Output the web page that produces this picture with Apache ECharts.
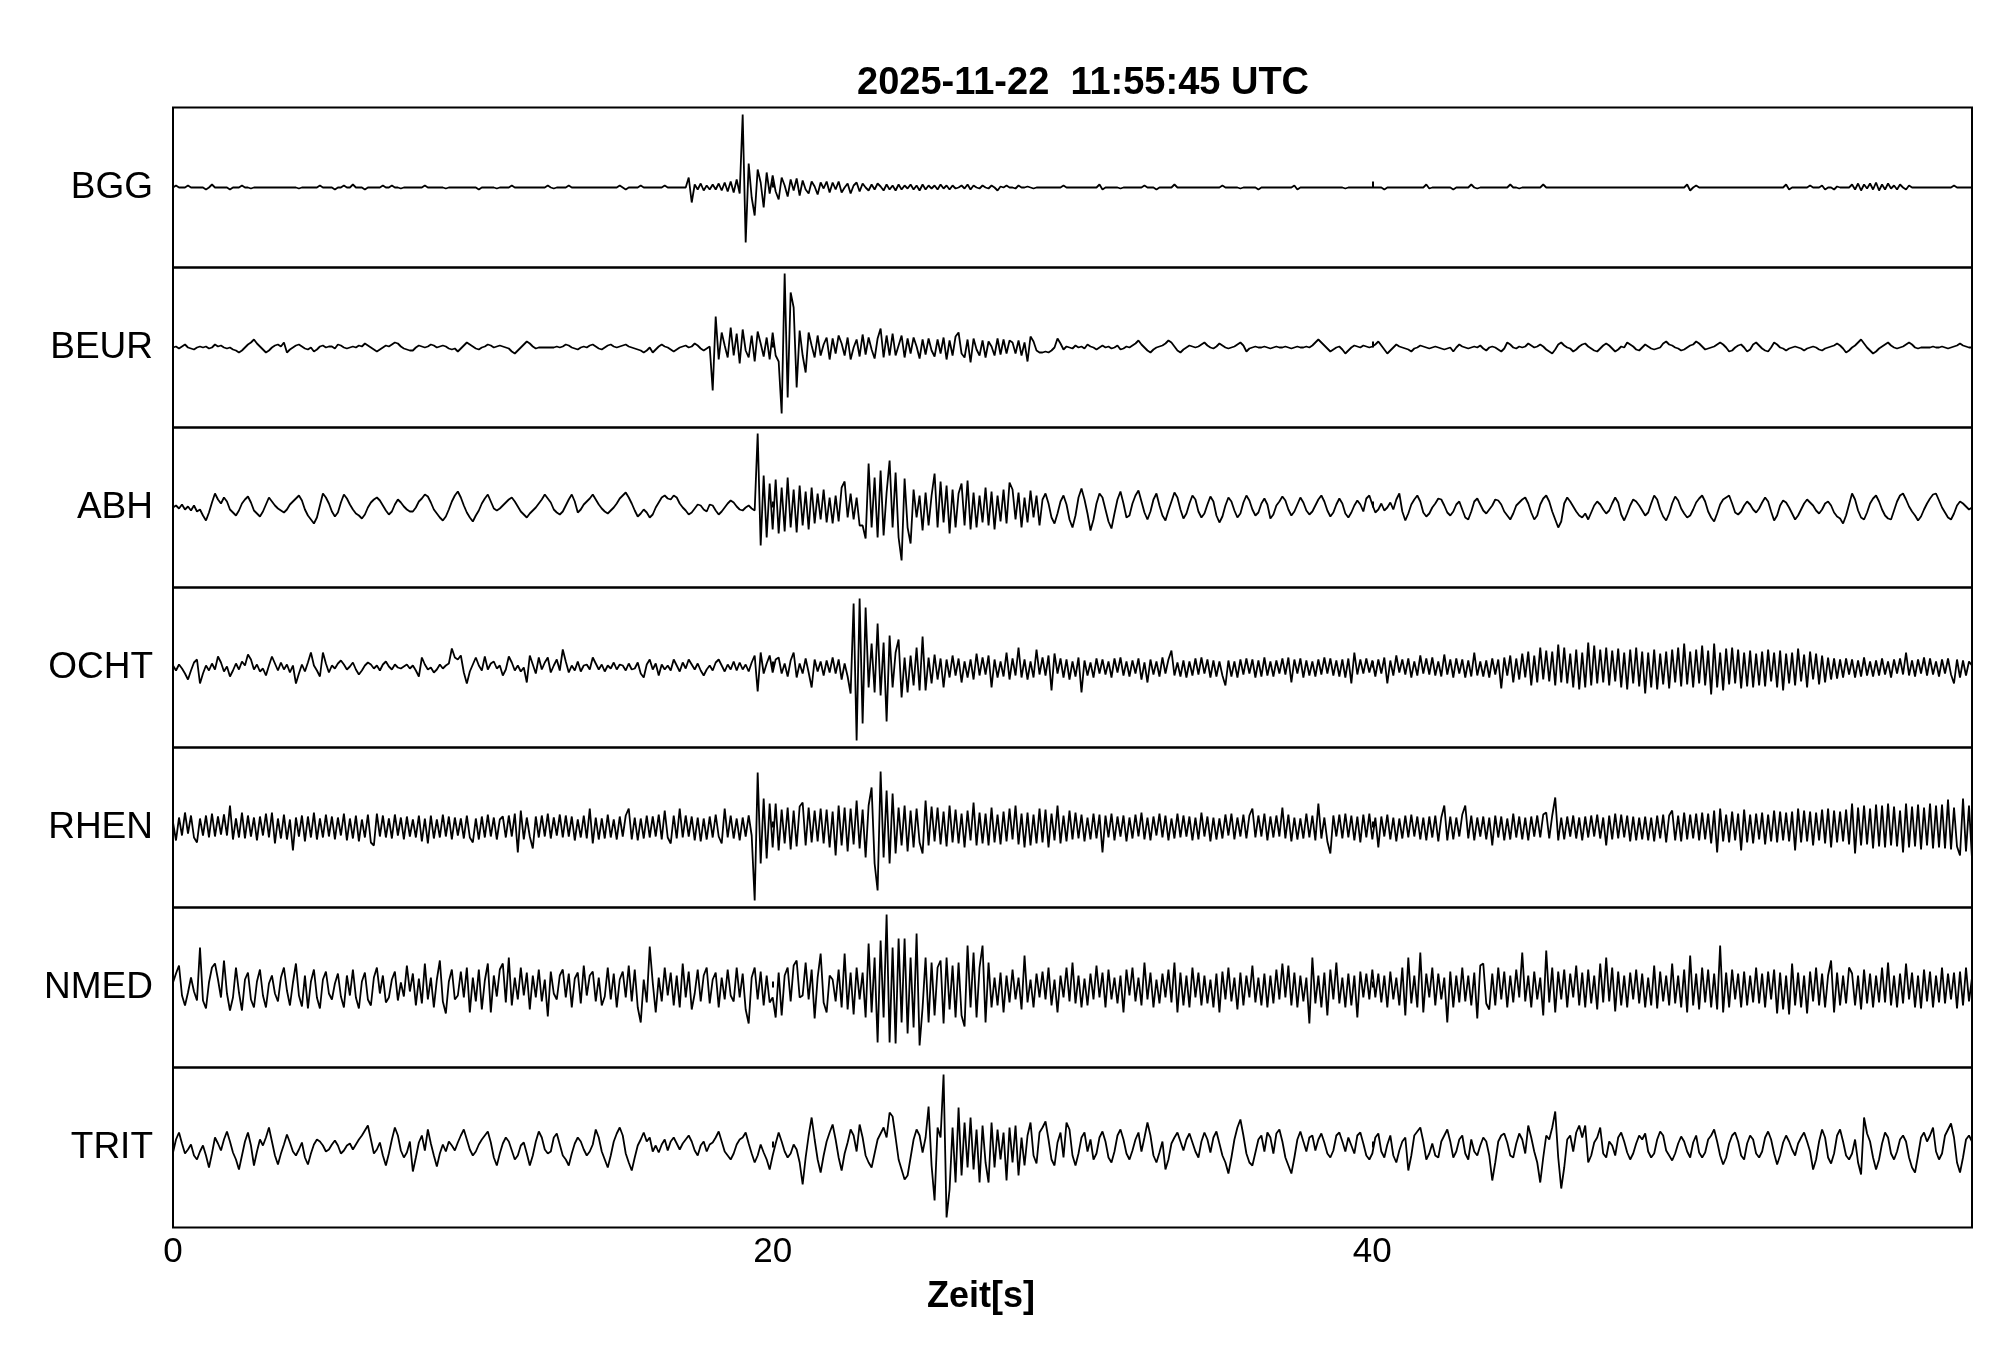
<!DOCTYPE html>
<html>
<head>
<meta charset="utf-8">
<script src="https://cdn.jsdelivr.net/npm/echarts@6/dist/echarts.min.js"></script>
<style>
html,body{margin:0;padding:0;background:#fff;}
#chart{width:2005px;height:1361px;}
</style>
</head>
<body>
<div id="chart"></div>
<script>
const titleText = '2025-11-22  11:55:45 UTC';
const xName = 'Zeit[s]';
const stations = ['BGG','BEUR','ABH','OCHT','RHEN','NMED','TRIT'];
const xTickLabels = [0, 20, 40];
const dt = 0.1; // seconds between samples

const bgg = [
0,2,0,0,0,2,0,0,0,0,
0,-2,0,3,0,0,0,0,0,-2,
0,0,0,2,0,0,-1,0,0,0,
0,0,0,0,0,0,0,0,0,0,
0,0,-1,0,0,0,0,0,0,2,
0,0,0,0,-2,0,0,2,0,0,
3,0,0,0,-2,0,0,0,0,0,
2,0,0,2,0,0,-1,0,0,0,
0,0,0,0,2,0,0,0,0,0,
0,-1,0,0,0,0,0,0,0,0,
0,0,-2,0,0,0,0,0,-1,0,
0,0,0,2,0,0,0,0,0,0,
0,0,0,0,0,2,0,-1,0,0,
0,0,2,0,0,0,0,0,0,0,
0,0,0,0,0,0,0,0,0,2,
0,-2,0,0,0,0,2,0,0,0,
0,0,0,0,2,0,0,0,0,0,
0,0,10,-15,3,-2,4,-3,2,-2,
3,-2,4,-3,5,-4,6,-5,8,-6,
73,-55,24,-10,-28,18,5,-20,15,-6,
12,-4,-12,10,2,-9,8,-3,9,-8,
7,-2,-6,6,1,-7,5,-1,6,-5,
5,-2,6,-5,0,4,-6,2,5,-4,
4,0,-3,3,-2,4,1,-3,3,-2,
2,-3,3,-2,2,-1,3,-2,2,-3,
3,-2,2,-1,2,-2,3,-1,2,-2,
2,-1,0,2,-1,3,-2,2,0,-1,
2,0,-1,2,0,-3,1,0,2,0,
0,-1,2,0,0,1,0,-1,0,0,
0,0,0,0,0,0,0,2,0,0,
0,0,0,0,0,0,0,0,0,3,
-2,0,0,0,0,0,-1,0,0,0,
0,0,0,0,2,0,0,0,-2,0,
0,0,0,0,3,0,0,0,0,0,
0,0,0,0,0,0,0,0,0,0,
2,0,0,0,0,0,-1,0,0,0,
0,0,-2,0,0,0,0,0,0,0,
0,0,0,0,2,-2,0,0,0,0,
0,0,0,0,0,0,0,0,0,0,
0,-1,0,0,0,0,0,0,0,0,
0,0,0,0,-2,0,0,0,0,0,
0,0,0,0,0,0,0,0,3,-1,
0,0,0,0,0,0,0,-2,0,0,
0,0,0,3,0,-1,0,0,0,0,
0,0,0,0,0,0,3,0,0,-1,
0,0,0,0,0,0,0,3,0,0,
0,0,0,0,0,0,0,0,0,0,
0,0,0,0,0,0,0,0,0,0,
0,0,0,0,0,0,0,0,0,0,
0,0,0,0,0,0,0,0,0,0,
0,0,0,0,0,3,-3,0,2,0,
0,0,0,0,0,0,0,0,0,0,
0,0,0,0,0,0,0,0,0,0,
0,0,0,0,0,0,0,0,3,-2,
0,0,0,0,0,0,2,0,0,0,
2,-2,0,0,-2,1,0,0,0,0,
3,-2,4,-3,3,-1,4,-2,5,-3,
3,-2,4,-1,2,-2,3,0,-2,2,
0,0,0,0,0,0,0,0,0,0,
0,0,0,0,2,0,0,0,0,0,
0];

const beur = [
0,1,-1,1,3,0,-1,-2,0,1,
0,1,-1,0,3,1,2,0,-1,0,
-2,-3,-5,-3,0,3,5,8,4,1,
-2,-5,-3,0,2,3,1,5,-5,-2,
0,2,3,1,-1,-2,0,-4,-2,1,
2,0,1,1,-1,3,2,0,-1,0,
1,0,2,1,4,2,0,-2,-4,-2,
0,2,1,3,5,4,1,-1,-2,-3,
-3,0,2,1,0,1,3,2,0,1,
2,1,-1,-2,-1,-4,-1,2,5,3,
1,-1,-2,0,1,3,2,0,1,2,
1,0,-1,-4,-6,-3,0,3,6,4,
1,-1,0,0,0,0,0,0,1,0,
1,3,2,0,-1,-2,0,1,0,2,
3,1,-1,-2,0,2,3,1,0,1,
2,3,1,0,-1,-2,-3,-5,-3,0,
-5,-2,1,3,1,0,-2,-4,-2,0,
1,2,0,1,4,2,-1,-3,-1,1,
-43,31,-12,15,2,-10,20,-8,14,-16,
18,-3,-10,12,-14,16,4,-9,10,-12,
15,-8,-14,-66,74,-50,55,40,-40,17,
-8,-25,15,2,-10,12,-8,3,10,-12,
9,-6,12,4,-8,10,-12,0,8,-9,
13,-7,10,-2,-11,9,19,-10,12,-8,
14,-8,2,12,-10,9,-6,10,1,-11,
8,-7,9,-3,-9,8,-6,10,-12,7,
-8,11,15,-6,-10,8,-15,9,-2,-8,
7,-10,6,1,-8,9,-7,8,-6,7,
5,-6,7,-8,5,-14,11,6,-3,-5,
-5,-4,-5,-3,0,9,4,-2,1,0,
-1,2,0,1,-1,3,1,0,-2,0,
2,0,1,-1,0,2,-2,-1,1,0,
2,4,7,3,0,-3,-5,-2,0,1,
2,4,7,5,1,-3,-5,-2,0,2,
1,0,1,3,5,2,0,-1,1,4,
2,0,-1,0,1,3,5,2,-4,-1,
0,1,0,0,1,0,-1,0,1,0,
0,1,0,-1,0,1,0,0,1,0,
2,5,8,5,2,-1,-4,-2,0,1,
-2,-6,-3,0,2,1,0,2,1,0,
1,3,6,2,-2,-6,-3,0,3,1,
0,-1,-2,-4,-1,0,2,1,0,-1,
0,1,0,-1,-2,-1,0,-4,0,3,
1,0,-1,0,1,0,2,-1,-3,0,
1,0,-2,-4,-1,5,3,0,-1,1,
0,1,4,2,0,1,3,1,-2,-4,
-6,-2,3,5,2,0,-1,-4,-2,1,
3,4,1,-1,-3,-4,-1,2,4,2,
-1,-4,-2,1,0,5,3,1,-2,-3,
0,3,1,-1,-2,-1,0,4,6,3,
2,0,-1,-3,-2,0,2,3,6,4,
1,-2,-1,0,1,3,5,3,0,-4,
-3,0,2,3,0,-4,-2,3,5,2,
-1,-3,-4,0,5,3,0,-1,-3,-1,
0,1,0,-1,-3,-1,0,1,0,-2,
-3,-1,0,1,2,4,2,-1,-5,-3,
0,2,5,8,4,0,-3,-6,-4,-1,
1,3,5,2,0,-1,0,1,3,5,
3,0,-1,0,0,0,0,1,0,0,
1,0,-1,0,1,2,4,2,1,0,
0];

const abh = [
0,2,-1,3,-2,1,-3,2,-4,-2,
-8,-13,-5,5,14,8,4,10,6,-2,
-5,-8,-3,4,8,11,5,-3,-6,-9,
-4,3,10,6,2,-1,-3,-5,-2,3,
6,9,12,7,-2,-8,-12,-16,-10,2,
14,10,4,-4,-9,-5,5,13,9,3,
-2,-6,-8,-11,-7,0,5,8,10,7,
2,-3,-7,-4,3,8,5,1,-2,-4,
-4,0,6,9,13,11,5,-2,-6,-10,
-13,-9,-2,6,12,16,10,2,-5,-10,
-14,-8,-3,4,9,13,6,-1,-3,-1,
2,5,8,10,6,1,-4,-7,-10,-6,
-3,0,4,8,13,9,5,-2,-5,-7,
-4,2,8,13,6,-5,-2,3,6,9,
13,8,3,-1,-4,-6,-3,0,4,9,
12,15,10,4,-3,-9,-6,-2,-5,-10,
-7,0,5,10,12,9,8,12,10,4,
0,-3,-7,-5,-1,3,2,-2,-4,3,
2,-3,-7,-4,0,4,7,5,1,-2,
-3,0,2,-1,-3,74,-38,32,-30,24,
-22,28,-26,20,-24,30,-20,18,-25,22,
-18,16,-22,20,-16,14,-12,18,-15,10,
-16,12,-14,20,26,-10,14,-12,10,-18,
-18,-31,44,-20,30,-30,37,-28,15,47,
-20,35,-30,-53,29,-20,-36,18,-10,12,
-23,15,-18,12,34,-20,26,-15,22,-26,
18,-20,14,24,-18,27,-22,15,-20,12,
-15,20,-18,16,-22,12,-14,18,-16,25,
18,-12,15,-20,10,-15,17,-10,12,-18,
8,14,4,-10,-16,-6,6,12,3,-12,
-20,-8,10,19,8,-6,-23,-12,4,14,
10,-2,-14,-21,-6,8,16,4,-10,-8,
4,12,17,6,-5,-12,-4,8,14,2,
-8,-13,-3,6,15,10,-2,-11,-6,4,
12,8,-4,-10,-6,3,11,6,-8,-15,
-9,2,10,6,-3,-10,-6,5,12,7,
-2,-8,-5,4,9,3,-11,-7,2,6,
11,7,-2,-8,-4,3,10,5,-3,-7,
-4,2,8,12,6,-3,-9,-5,3,9,
4,-6,-10,-5,2,7,3,-4,9,12,
3,-5,-2,4,-3,0,5,-2,8,14,
-4,-13,-6,3,8,12,6,-5,-9,-6,
0,4,9,8,2,-5,-8,-4,3,6,
-2,-10,-12,-4,6,9,3,-3,-6,-2,
2,8,7,3,-4,-8,-12,-6,2,5,
8,10,4,-5,-12,-8,3,9,12,6,
-4,-12,-20,-14,4,10,6,1,-4,-8,
-10,-6,-12,-5,2,6,3,-2,-6,-3,
4,10,5,-7,-13,-6,2,8,6,2,
-3,-8,-5,4,12,8,-2,-9,-13,-6,
4,11,7,-1,-6,-10,-8,-2,5,9,
12,6,-4,-10,-14,-6,3,8,10,12,
4,-5,-7,-4,2,6,3,-2,-5,-1,
5,10,6,-4,-13,-8,2,7,5,0,
-6,-12,-8,-2,4,8,5,2,-3,-6,
-2,4,6,2,-5,-9,-11,-16,-8,3,
14,8,-3,-10,-12,-5,4,9,12,6,
-2,-8,-11,-12,-3,6,12,14,8,1,
-4,-8,-13,-9,-2,4,9,13,14,7,
0,-5,-10,-12,-6,2,6,4,1,-2,
0];

const ocht = [
2,-3,3,-1,-6,-12,-3,5,8,-16,
-6,2,-3,4,-2,11,5,-4,1,-9,
-3,4,-2,6,2,13,8,-2,3,-4,
-1,-8,2,11,4,-3,5,-2,3,-5,
2,-16,-6,3,-4,5,15,2,-3,-9,
15,4,-5,2,-1,4,7,3,-2,1,
5,-2,-7,-3,2,5,3,-1,2,-3,
3,6,1,-2,3,0,-1,1,3,-1,
2,-3,-9,10,3,-2,0,-5,-2,3,
-1,2,4,19,10,8,12,-5,-16,-4,
3,10,2,-3,11,-2,4,6,-1,2,
-8,-2,11,5,-3,2,-4,0,-15,12,
3,-6,10,-2,5,10,-5,2,8,-3,
18,6,-5,2,-3,6,-4,2,3,-2,
10,4,-2,3,-4,2,-1,5,-2,3,
2,-3,4,-2,-1,5,-6,-10,3,8,
-2,4,-8,3,-2,2,-3,8,2,-4,
5,-1,8,3,-2,4,-3,-8,-2,2,
-3,5,8,2,-4,3,-2,6,-3,5,
-2,3,-4,5,12,-24,15,-6,4,12,
-5,8,10,-6,4,-9,7,15,-10,4,
-6,9,-5,-20,8,-4,6,-8,7,-5,
10,-6,8,-12,4,-9,-26,64,-73,69,
-56,60,-20,24,-25,44,-28,25,-54,32,
-20,15,28,-30,10,-25,12,-18,20,-23,
31,-23,10,-16,13,-12,9,-20,8,-10,
12,-8,9,-15,6,-10,8,-12,14,-8,
10,-7,12,-20,8,-10,6,-9,15,-12,
9,-8,20,-10,8,-12,6,-10,18,-7,
10,-8,12,-23,14,-6,9,-10,8,-12,
6,-9,10,-25,7,-8,5,-10,9,-6,
8,-7,6,-10,9,-5,10,-8,6,-9,
7,-6,9,-12,5,-15,8,-7,6,-9,
10,-6,8,17,-8,5,-9,7,-10,6,
-8,9,-7,10,-6,8,-10,7,-9,6,
-8,-18,7,-9,6,-10,8,-7,9,-6,
8,-10,7,-9,10,-8,6,-9,7,-6,
9,-7,10,-15,8,-6,9,-10,7,-8,
6,-9,8,-7,10,-6,9,-8,7,-9,
8,-10,9,-16,15,-7,8,-6,9,-5,
7,-9,8,-6,10,-16,7,-8,12,-5,
8,-7,9,-10,6,-8,12,-6,9,-7,
10,-8,6,-9,13,-7,8,-10,9,-6,
8,-10,7,-9,15,-8,6,-9,7,-10,
9,-7,8,-21,10,-8,12,-15,9,-12,
14,-10,16,-18,12,-15,20,-12,17,-14,
16,-18,23,-15,20,-16,14,-20,18,-22,
15,-20,25,-18,22,-16,18,-15,20,-18,
17,-14,19,-20,15,-22,18,-16,20,-19,
16,-26,15,-20,18,-22,14,-17,16,-21,
18,-15,20,-19,24,-17,16,-20,18,-16,
22,-18,17,-27,24,-20,15,-23,19,-17,
20,-16,18,-21,15,-19,17,-20,14,-18,
16,-19,18,-14,15,-20,17,-23,14,-16,
15,-18,19,-14,13,-20,16,-12,14,-17,
12,-15,10,-12,9,-11,8,-10,9,-7,
8,-10,7,-9,10,-8,6,-9,7,-8,
9,-7,6,-10,8,-6,9,-7,15,-8,
7,-9,8,-6,10,-8,9,-7,6,-9,
8,-6,9,-7,-16,8,-10,7,-8,6,
2];

const rhen = [
5,-13,10,-8,15,-6,12,-10,-15,9,
-8,12,-10,14,-9,11,-7,13,-8,22,
-12,9,-10,15,-11,12,-9,10,-13,11,
-8,14,-10,15,-16,9,-11,13,-12,8,
-23,10,-9,12,-14,11,-10,15,-12,9,
-10,13,-9,11,-12,10,-8,14,-13,9,
-11,12,-14,8,-10,13,-15,-18,14,-9,
12,-10,9,-11,13,-8,10,-12,11,-9,
8,-10,12,-14,9,-16,12,-11,8,-10,
13,-9,11,-12,10,-8,9,-11,12,-10,
-15,9,-12,11,-10,13,-9,10,-12,8,
11,-10,12,-9,14,-25,17,-12,10,-9,
-21,11,-10,12,-9,14,-11,10,-8,13,
-10,12,-9,11,-13,8,-10,12,-11,19,
-16,10,-12,9,-11,13,-10,8,-12,11,
-9,12,19,-12,10,-13,9,-11,12,-10,
11,-9,13,-12,17,-10,-16,12,-11,19,
-10,12,-9,11,-13,10,-14,9,-12,11,
-10,13,-9,-16,19,-10,12,-11,9,-13,
10,-9,12,-8,-73,55,-36,29,-31,24,
-20,24,-23,18,-16,20,-22,17,-19,21,
25,-18,20,-15,17,-14,19,-16,18,-20,
16,-28,22,-18,20,-24,19,-17,27,-21,
18,-30,22,40,-36,-63,56,-30,37,-36,
34,-26,20,-18,22,-24,17,-20,19,-15,
-26,27,-18,21,-14,20,-17,16,-19,22,
-15,18,-16,14,-20,17,-13,25,-18,15,
-16,14,-18,20,-15,13,-17,16,-14,19,
-12,22,-17,14,-20,15,-18,13,-16,19,
-15,18,-20,14,-13,22,-16,12,-14,17,
-12,15,-11,13,-14,10,-12,14,-11,13,
-25,12,-10,14,-13,11,-9,12,-14,10,
-11,13,-9,15,-12,10,-13,11,-8,14,
-10,12,-13,9,-11,14,-10,12,-9,11,
-13,10,-12,15,-9,11,-14,10,-12,9,
-11,13,-8,14,-12,10,-9,13,-11,12,
19,-10,12,-9,14,-13,11,-10,12,-9,
20,-11,13,-14,10,-12,9,-11,14,-10,
12,-13,24,-11,10,-14,-26,12,-9,13,
-11,14,-10,12,-13,11,-15,13,-10,14,
-12,10,-20,11,-9,13,-12,10,-14,9,
-11,12,-10,13,-9,11,-12,10,-13,11,
-10,12,-14,10,22,-13,11,-12,10,-9,
13,22,-11,12,-13,10,-9,11,-12,10,
-18,12,-10,11,-13,9,-12,14,-10,11,
-12,10,-13,11,-9,12,-10,13,15,-11,
12,30,-13,10,-12,11,-9,12,-11,10,
-13,11,-10,12,-9,13,-11,10,-18,12,
-12,14,-11,13,-10,12,-14,11,-13,10,
-12,11,-13,10,-14,12,-11,13,-15,12,
17,-13,12,-14,15,-12,13,-11,14,-13,
15,-12,14,-16,17,-25,19,-14,13,-15,
16,-13,14,-23,18,-15,13,-16,14,-12,
15,-17,13,-14,17,-15,16,-13,15,-14,
16,-23,19,-15,17,-14,16,-18,15,-13,
18,-16,19,-20,17,-15,16,-14,18,-17,
24,-26,20,-18,22,-17,19,-21,23,-19,
22,-20,24,-18,21,-19,17,-25,24,-20,
21,-19,23,-22,20,-18,24,-21,22,-20,
23,-21,28,-22,20,-19,-28,29,-24,22,
-31];

const nmed = [
5,14,22,-8,-18,-5,10,-4,-13,40,
-13,-21,5,20,24,8,-10,27,-6,-23,
-10,20,-5,-23,8,15,-12,-20,6,18,
-8,-20,4,12,-6,-14,10,20,-3,-18,
5,24,-8,-19,12,-21,6,18,-10,-21,
8,16,-6,-12,4,14,-9,-20,12,-8,
18,-10,-21,6,15,-12,-18,10,20,-6,
12,-15,-10,8,16,-13,5,-9,22,-4,
14,-18,9,-16,24,-12,10,-20,8,27,
-14,-26,6,18,-12,-8,16,-10,20,-25,
10,-14,18,-22,7,24,-25,12,-9,18,
24,-15,30,-18,10,-12,20,-8,15,-22,
12,-10,18,-14,8,-29,16,-6,-12,12,
18,-10,14,-20,9,15,-16,22,-8,12,
16,-14,10,-18,-9,20,-12,14,-20,8,
16,-10,22,-14,18,-20,-35,8,-15,41,
5,-25,10,-14,20,-8,15,-18,12,-20,
24,-10,16,-22,-6,18,-14,12,20,-16,
8,15,-20,10,-12,18,-8,-14,20,-10,
14,-22,-36,10,20,-12,16,-18,12,-15,
-10,-30,15,-28,12,20,-14,22,27,-10,
-8,25,-12,18,-31,10,34,-15,-25,12,
8,-14,18,-20,34,-22,15,-27,20,-12,
15,-30,44,-25,30,-55,47,-30,73,-55,
40,-56,49,-35,49,-46,30,-40,54,-58,
-20,30,-35,25,-28,20,27,-36,30,-22,
22,-30,25,-28,-39,42,-20,35,-30,20,
42,-35,25,-20,10,-18,15,-25,12,-15,
18,-12,10,-22,32,-15,8,-20,14,-10,
16,-12,20,-18,8,-25,12,-10,20,-14,
25,-16,12,-20,9,-18,14,-12,22,-10,
15,-20,18,-12,10,-16,12,-25,18,-8,
20,-14,10,-18,25,-12,15,-20,8,-16,
14,-10,18,-15,25,-25,15,-18,12,-20,
20,-10,15,-18,12,-16,8,-20,14,-25,
16,-12,20,-14,10,-22,15,-18,12,-10,
22,-15,10,-18,14,-20,12,-16,18,-12,
24,-10,22,-18,15,-20,12,-14,10,-36,
30,-16,12,-20,15,-28,18,-12,25,-16,
10,-20,14,-18,12,-30,16,-10,14,-12,
18,-10,14,-15,12,-20,16,-12,10,-18,
20,-28,30,-16,12,-20,35,-25,14,-10,
20,-18,14,-12,10,-35,16,-20,12,-15,
20,-14,12,-18,15,-31,22,24,-16,-22,
14,-18,20,-12,16,-20,12,-15,18,-10,
35,-14,12,-20,16,-12,10,-28,37,-15,
20,-25,16,-12,18,-20,14,-10,22,-18,
15,-20,18,-16,12,-22,24,-15,30,-14,
20,-24,16,-18,12,-20,15,-12,18,-16,
14,-20,10,-18,22,-21,16,-14,12,-18,
24,-16,12,-20,18,-25,32,-18,14,-22,
20,-15,18,-20,14,-22,42,-25,15,-20,
18,-12,14,-20,16,-18,12,-15,20,-16,
14,-20,16,-12,18,-26,15,-22,12,-27,
24,-18,15,-20,12,-26,16,-14,20,-18,
14,-20,12,27,-25,15,-18,12,-16,20,
14,-18,12,-22,18,-16,14,-20,12,-15,
20,-15,25,-18,12,-20,14,-16,24,-12,
15,-20,12,-21,18,-14,16,-20,12,-15,
20,-16,14,-12,15,-21,16,-18,20,-14,
10];

const trit = [
-5,8,15,4,-6,-2,3,-8,-12,-4,
2,-8,-20,-6,10,4,-3,8,16,6,
-5,-12,-22,-8,6,15,2,-18,-4,8,
2,10,20,6,-8,-17,-6,3,13,5,
-4,-8,-2,5,-10,-17,-6,3,8,6,
2,-4,-2,3,7,2,-6,-3,2,4,
-2,3,8,12,17,22,8,-6,-2,5,
-8,-18,-6,8,20,12,-3,-10,-5,6,
-24,-10,5,12,-3,18,4,-8,-19,-6,
3,-4,6,2,-3,5,12,18,8,-2,
-8,-4,3,8,12,16,5,-10,-18,-6,
4,10,6,-3,-12,-8,2,5,-6,-18,
-8,6,16,10,-2,-6,-4,10,14,3,
-8,-12,-18,-6,4,10,6,-2,-8,-4,
3,18,10,-4,-12,-20,-8,6,14,20,
12,-6,-15,-23,-10,2,8,15,6,10,
-4,2,-5,3,8,-3,6,10,4,-2,
4,8,12,6,-3,-8,2,6,-4,3,
5,10,16,6,-4,-8,-12,-6,3,8,
10,15,4,-6,-15,-8,3,-5,-12,-22,
-8,4,15,6,-4,-10,-6,3,-2,-15,
-37,-10,12,30,8,-12,-25,-8,6,15,
23,8,-10,-23,-6,5,18,12,-4,23,
10,-8,-15,-20,-6,8,14,20,10,35,
31,10,-12,-22,-32,-28,-10,8,18,12,
-5,10,41,-18,-53,20,10,73,-70,-42,
20,-35,40,-28,25,-20,30,-22,18,-35,
22,-15,-35,25,-20,18,-12,15,-33,20,
-15,22,-28,10,-18,12,25,-8,-16,15,
20,26,8,-12,-18,5,15,-10,25,18,
-8,-18,-6,10,15,-4,8,-12,-6,10,
16,6,-10,-15,-4,12,18,8,-6,-12,
-3,8,15,-4,10,25,12,-8,-15,-5,
6,-22,-12,4,10,15,6,-3,8,14,
5,-4,-10,6,15,8,-5,10,16,4,
-8,-15,-26,-10,8,20,28,12,-6,-15,
-18,-5,8,12,-4,15,10,-6,14,18,
6,-10,-18,-26,-10,8,16,6,-4,10,
12,-3,8,14,5,-6,-10,-3,12,15,
6,-4,10,2,-6,12,15,4,-8,-12,
-6,10,14,-4,-10,3,12,-8,-15,-3,
6,10,-23,-8,12,16,20,6,-12,-6,
4,-8,-10,6,12,18,6,-10,-4,8,
12,-6,-12,8,-4,-8,2,10,6,-8,
-33,-15,6,12,14,5,-8,-10,4,14,
8,-6,22,10,-4,-15,-35,-10,12,8,
20,36,-10,-41,-20,8,12,-4,15,22,
10,22,-15,-8,5,10,20,-6,-10,6,
2,-8,10,15,6,-5,-12,-6,4,12,
8,14,-4,-10,-6,8,16,12,-3,-8,
-13,-6,4,11,6,-4,-10,5,12,-5,
-10,-5,8,12,18,6,-8,-17,-10,4,
12,15,6,-8,-12,4,12,8,-6,-10,
-4,10,16,8,-6,-17,-8,5,12,6,
-2,-8,4,10,15,6,-4,-22,-12,6,
18,10,-10,-16,-6,12,18,6,-8,-12,
-6,8,-15,-27,30,14,6,-10,-22,-12,
4,15,10,-6,-12,-4,8,12,6,-10,
-20,-25,-8,10,15,6,12,20,-4,-12,
-6,12,18,24,10,-15,-25,-10,8,12,
6];

const traces = [bgg, beur, abh, ocht, rhen, nmed, trit];

const FONT = "'Liberation Sans', Arial, Helvetica, sans-serif";
const chart = echarts.init(document.getElementById('chart'), null, {renderer: 'canvas'});

const plotLeft = 173, plotRight = 33, panelTop = 107.5, panelH = 160;
const grids = [], xAxes = [], yAxes = [], series = [];
stations.forEach((name, i) => {
  grids.push({
    left: plotLeft, right: plotRight, top: panelTop + i * panelH, height: panelH,
    show: true, borderColor: '#000', borderWidth: 2, backgroundColor: 'transparent'
  });
  const last = i === stations.length - 1;
  xAxes.push({
    type: 'value', gridIndex: i, min: 0, max: 60, interval: 20,
    axisLine: {show: false},
    axisTick: {show: true, inside: true, length: 6, lineStyle: {color: '#000', width: 2}},
    axisLabel: {
      show: last, color: '#000', fontSize: 35, fontFamily: FONT, margin: 7,
      showMaxLabel: false,
      formatter: v => (xTickLabels.indexOf(v) >= 0 ? String(v) : '')
    },
    splitLine: {show: false}
  });
  yAxes.push({
    type: 'value', gridIndex: i, min: -80, max: 80,
    name: name, nameLocation: 'middle', nameRotate: 0, nameGap: 20,
    nameTextStyle: {color: '#000', fontSize: 37, fontFamily: FONT, align: 'right',
                    verticalAlign: 'middle', padding: [3, 0, 0, 0]},
    axisLine: {show: false}, axisTick: {show: false}, axisLabel: {show: false}, splitLine: {show: false}
  });
  series.push({
    type: 'line', xAxisIndex: i, yAxisIndex: i, name: name,
    data: traces[i].map((v, k) => [k * dt, v]),
    showSymbol: false, symbol: 'none', smooth: false,
    lineStyle: {color: '#000', width: 1.8}, silent: true
  });
});

chart.setOption({
  animation: false,
  backgroundColor: '#fff',
  title: [
    {text: titleText, left: 852, top: 60,
     textStyle: {color: '#000', fontSize: 38, fontWeight: 'bold', fontFamily: FONT}},
    {text: xName, left: 922, top: 1274,
     textStyle: {color: '#000', fontSize: 36, fontWeight: 'bold', fontFamily: FONT}}
  ],
  grid: grids,
  xAxis: xAxes,
  yAxis: yAxes,
  series: series
});
</script>
</body>
</html>
